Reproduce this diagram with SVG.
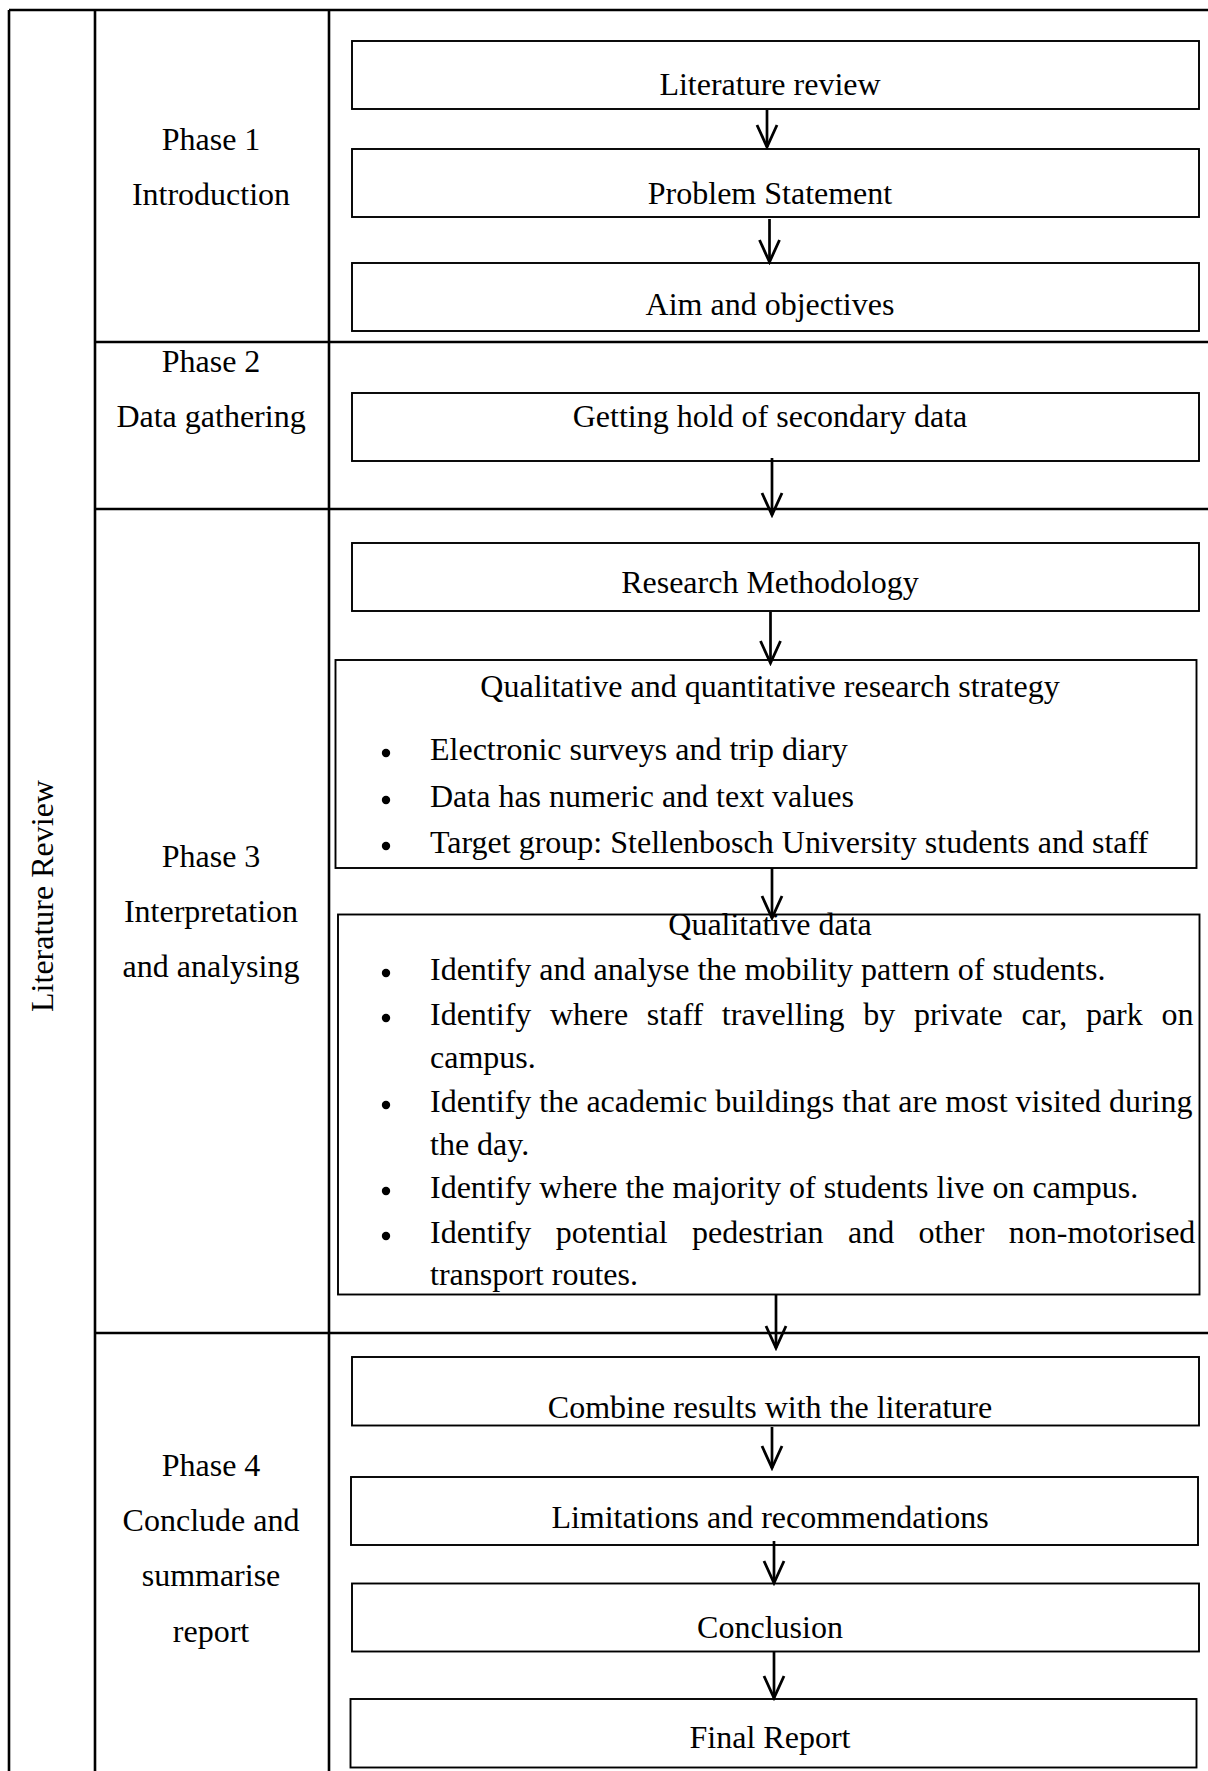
<svg xmlns="http://www.w3.org/2000/svg" width="1208" height="1771" viewBox="0 0 1208 1771">
<style>
text{font-family:"Liberation Serif","Times New Roman",serif;font-size:32px;fill:#000}
.c{text-anchor:middle}
.grid{stroke:#000;stroke-width:2.6;fill:none}
.box{fill:#fff;stroke:#000;stroke-width:1.9}
.arr{stroke:#000;stroke-width:2.7;fill:none;marker-end:url(#ah)}
.dot{fill:#000}
</style>
<defs>
<marker id="ah" markerUnits="userSpaceOnUse" markerWidth="28" markerHeight="26" refX="25" refY="13" orient="auto" viewBox="0 0 28 26">
<path d="M3,3 L25,13 L3,23" fill="none" stroke="#000" stroke-width="2.8"/>
</marker>
</defs>
<rect width="1208" height="1771" fill="#fff"/>
<g id="table">
<line class="grid" x1="9" y1="10" x2="1208" y2="10"/>
<line class="grid" x1="9" y1="10" x2="9" y2="1771"/>
<line class="grid" x1="95" y1="10" x2="95" y2="1771"/>
<line class="grid" x1="329" y1="10" x2="329" y2="1771"/>
<line class="grid" x1="95" y1="342" x2="1208" y2="342"/>
<line class="grid" x1="95" y1="509" x2="1208" y2="509"/>
<line class="grid" x1="95" y1="1333" x2="1208" y2="1333"/>
</g>
<g id="side-label">
<text class="c" transform="translate(53,896) rotate(-90)">Literature Review</text>
</g>
<g id="phase1-label">
<text class="c" x="211" y="150">Phase 1</text>
<text class="c" x="211" y="205">Introduction</text>
</g>
<g id="phase2-label">
<text class="c" x="211" y="372">Phase 2</text>
<text class="c" x="211" y="427">Data gathering</text>
</g>
<g id="phase3-label">
<text class="c" x="211" y="867">Phase 3</text>
<text class="c" x="211" y="922">Interpretation</text>
<text class="c" x="211" y="977">and analysing</text>
</g>
<g id="phase4-label">
<text class="c" x="211" y="1476">Phase 4</text>
<text class="c" x="211" y="1531">Conclude and</text>
<text class="c" x="211" y="1586">summarise</text>
<text class="c" x="211" y="1642">report</text>
</g>
<g id="n-literature">
<rect class="box" x="352" y="41" width="847" height="68"/>
<text class="c" x="770" y="95">Literature review</text>
</g>
<g id="n-problem">
<rect class="box" x="352" y="149" width="847" height="68"/>
<text class="c" x="770" y="204">Problem Statement</text>
</g>
<g id="n-aim">
<rect class="box" x="352" y="263" width="847" height="68"/>
<text class="c" x="770" y="315">Aim and objectives</text>
</g>
<g id="n-secondary">
<rect class="box" x="352" y="393" width="847" height="68"/>
<text class="c" x="770" y="427">Getting hold of secondary data</text>
</g>
<g id="n-method">
<rect class="box" x="352" y="543" width="847" height="68"/>
<text class="c" x="770" y="593">Research Methodology</text>
</g>
<g id="n-strategy">
<rect class="box" x="335.5" y="660" width="861" height="208"/>
<text class="c" x="770" y="697">Qualitative and quantitative research strategy</text>
<circle class="dot" cx="386" cy="753" r="4.2"/>
<text x="430" y="760">Electronic surveys and trip diary</text>
<circle class="dot" cx="386" cy="800" r="4.2"/>
<text x="430" y="807">Data has numeric and text values</text>
<circle class="dot" cx="386" cy="846" r="4.2"/>
<text x="430" y="853">Target group: Stellenbosch University students and staff</text>
</g>
<g id="n-qualitative">
<rect class="box" x="338" y="914.5" width="861.5" height="380"/>
<text class="c" x="770" y="935">Qualitative data</text>
<circle class="dot" cx="386" cy="973" r="4.2"/>
<text x="430" y="980">Identify and analyse the mobility pattern of students.</text>
<circle class="dot" cx="386" cy="1018" r="4.2"/>
<text x="430" y="1025" word-spacing="10.7">Identify where staff travelling by private car, park on</text>
<text x="430" y="1068">campus.</text>
<circle class="dot" cx="386" cy="1105" r="4.2"/>
<text x="430" y="1112">Identify the academic buildings that are most visited during</text>
<text x="430" y="1155">the day.</text>
<circle class="dot" cx="386" cy="1191" r="4.2"/>
<text x="430" y="1198">Identify where the majority of students live on campus.</text>
<circle class="dot" cx="386" cy="1236" r="4.2"/>
<text x="430" y="1243" word-spacing="16.4">Identify potential pedestrian and other non-motorised</text>
<text x="430" y="1285">transport routes.</text>
</g>
<g id="n-combine">
<rect class="box" x="352" y="1357" width="847" height="68.5"/>
<text class="c" x="770" y="1418">Combine results with the literature</text>
</g>
<g id="n-limitations">
<rect class="box" x="351" y="1477" width="847" height="68"/>
<text class="c" x="770" y="1528">Limitations and recommendations</text>
</g>
<g id="n-conclusion">
<rect class="box" x="352" y="1583.5" width="847" height="68"/>
<text class="c" x="770" y="1638">Conclusion</text>
</g>
<g id="n-final">
<rect class="box" x="350.5" y="1699" width="846" height="68.5"/>
<text class="c" x="770" y="1748">Final Report</text>
</g>
<g id="connectors">
<line class="arr" x1="767" y1="110" x2="767" y2="147"/>
<line class="arr" x1="769.5" y1="219" x2="769.5" y2="262"/>
<line class="arr" x1="772" y1="458" x2="772" y2="515"/>
<line class="arr" x1="770.5" y1="612" x2="770.5" y2="663"/>
<line class="arr" x1="772" y1="868" x2="772" y2="918"/>
<line class="arr" x1="776" y1="1294" x2="776" y2="1348"/>
<line class="arr" x1="772" y1="1427" x2="772" y2="1468"/>
<line class="arr" x1="774" y1="1541" x2="774" y2="1583"/>
<line class="arr" x1="774" y1="1652" x2="774" y2="1698"/>
</g>
</svg>
